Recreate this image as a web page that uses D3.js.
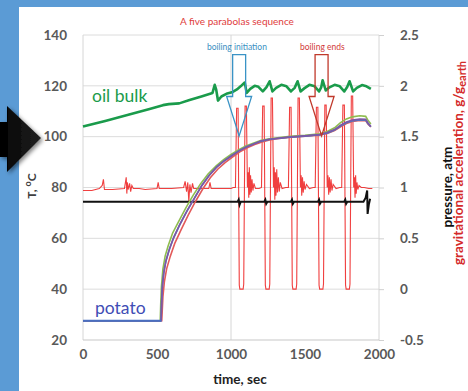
<!DOCTYPE html>
<html><head><meta charset="utf-8">
<script src="https://cdn.jsdelivr.net/npm/d3@7"></script>
<style>html,body{margin:0;padding:0;background:#5b9bd5;}svg{display:block;}</style>
</head><body>
<script>
// ---- data ----
const timeTicks = [0, 500, 1000, 1500, 2000];
const tempTicks = [20, 40, 60, 80, 100, 120, 140];
const pressureTicks = [-0.5, 0, 0.5, 1, 1.5, 2, 2.5];
const timeGrid = [0, 1000, 2000];

const oilBulk = [[0,104],[150,106.2],[300,108.5],[450,110.9],[540,112.4],[580,112.8],[650,113.1],[720,114.4],[800,115.8],[875,117.2],[890,120.4],[900,118.5],[912,114.2],[935,115.8],[975,117],[1012,117.6],[1040,118.6],[1065,119.8],[1093,121.3],[1106,117.2],[1130,118.8],[1160,120],[1185,119.6],[1215,117.8],[1240,119.5],[1261,121.8],[1280,117.8],[1305,119.2],[1340,120.4],[1375,119.8],[1405,117.8],[1430,119.2],[1450,121.8],[1470,117.8],[1495,119],[1530,120.4],[1565,119.8],[1595,117.8],[1610,119.5],[1619,122.2],[1640,118.2],[1665,119.4],[1700,120.4],[1735,119.8],[1765,117.8],[1785,119.5],[1801,121.8],[1825,117.8],[1850,119.2],[1885,120.3],[1915,119.8],[1945,118.8]];

const potatoRed = [[0,27.6],[532,27.6],[535,31],[540,37],[550,43],[565,48],[590,53],[620,58],[660,63],[710,69],[760,74.5],[810,79.5],[860,83.8],[910,87.2],[960,89.8],[1010,92],[1060,94],[1110,95.6],[1160,96.9],[1210,97.9],[1260,98.7],[1300,99.1],[1400,99.8],[1500,100.2],[1600,100.7],[1650,101.3],[1700,102.4],[1740,103.9],[1780,105.2],[1820,106],[1870,106.4],[1910,106.3],[1925,105],[1945,103.8]];
const potatoGreen = [[0,27.6],[522,27.6],[525,34],[530,41],[540,48],[555,53],[575,57],[605,62],[645,66.5],[695,72],[745,77],[795,81.5],[845,85.3],[900,88.5],[950,91],[1000,93],[1050,94.8],[1100,96.3],[1150,97.4],[1200,98.5],[1250,99.1],[1300,99.5],[1400,100.1],[1500,100.5],[1600,101.1],[1650,102],[1700,103.5],[1740,105.5],[1780,107],[1820,107.8],[1870,108.2],[1910,108],[1925,106.5],[1945,105]];
const potatoBlue = [[0,27.6],[528,27.6],[531,35],[537,42],[548,47.5],[562,51.5],[585,56],[615,60.5],[655,65.5],[705,71],[755,76],[805,81],[855,85],[905,88.2],[955,90.6],[1005,92.6],[1055,94.5],[1105,96],[1155,97.2],[1205,98.2],[1255,98.9],[1300,99.2],[1400,99.8],[1500,100.2],[1600,100.8],[1650,101.4],[1700,102.6],[1740,104.2],[1780,105.5],[1820,106.2],[1870,106.6],[1910,106.5],[1925,105.2],[1945,103.9]];
const potatoPurple = [[0,27.6],[527,27.6],[530,33],[535,40],[545,46],[560,51],[580,55],[610,60],[650,65],[700,70.5],[750,75.5],[800,80.5],[850,84.5],[900,87.8],[950,90.3],[1000,92.3],[1050,94.2],[1100,95.8],[1150,97],[1200,98.3],[1250,98.9],[1300,99.3],[1400,99.9],[1500,100.3],[1600,100.8],[1650,101.6],[1700,102.8],[1740,104.5],[1780,105.8],[1820,106.5],[1870,106.9],[1910,106.8],[1925,105.5],[1945,104]];

const gravity = [[0,0.97],[60,0.97],[110,0.99],[130,1.02],[138,1.08],[145,0.98],[200,0.98],[280,0.99],[292,1.1],[296,0.94],[300,1.05],[305,0.98],[315,1.04],[322,0.96],[330,1.02],[340,0.99],[380,0.99],[420,0.98],[500,0.99],[508,1.05],[515,0.99],[600,0.99],[680,1.0],[690,1.06],[700,0.96],[708,1.05],[715,0.86],[722,1.03],[730,0.95],[740,1.04],[748,0.99],[820,0.99],[850,0.99],[858,1.05],[866,0.99],[950,0.99],[1000,0.99],[1015,1.0],
[1030,1.0],[1038,1.78],[1048,1.78],[1056,0.04],[1060,0],[1082,0],[1086,0.05],[1095,1.8],[1104,1.8],[1111,1.0],[1116,1.15],[1120,0.9],[1124,1.2],[1128,0.93],[1132,1.12],[1137,0.95],[1142,1.08],[1148,0.97],[1155,1.04],[1165,0.99],[1190,0.99],
[1206,1.0],[1214,1.8],[1224,1.8],[1232,0.04],[1236,0],[1258,0],[1262,0.05],[1271,1.88],[1280,1.88],[1287,1.0],[1292,1.2],[1296,0.88],[1300,1.15],[1304,0.92],[1309,1.18],[1314,0.95],[1320,1.1],[1326,0.96],[1333,1.05],[1345,0.99],[1370,1.0],
[1388,1.0],[1396,1.79],[1406,1.79],[1414,0.04],[1418,0],[1440,0],[1444,0.05],[1453,1.88],[1462,1.88],[1469,1.0],[1474,1.12],[1478,0.92],[1483,1.1],[1488,0.95],[1494,1.06],[1500,0.98],[1510,1.03],[1530,0.99],[1555,1.0],
[1569,1.0],[1577,1.79],[1587,1.79],[1595,0.04],[1599,0],[1621,0],[1625,0.05],[1634,1.81],[1643,1.81],[1650,1.0],[1655,1.12],[1660,0.93],[1665,1.1],[1670,0.95],[1676,1.08],[1682,0.97],[1690,1.03],[1710,0.99],[1735,1.0],
[1748,1.0],[1756,1.81],[1766,1.81],[1774,0.04],[1778,0],[1800,0],[1804,0.05],[1813,1.9],[1822,1.9],[1829,1.0],[1834,1.1],[1838,0.9],[1842,1.12],[1846,0.94],[1851,1.05],[1857,0.98],[1865,1.02],[1880,1.0],[1900,1.0],[1930,0.99],[1955,0.99]];

const pressure = [[0,0.86],[1045,0.86],[1052,0.88],[1058,0.83],[1066,0.86],[1225,0.86],[1232,0.88],[1238,0.84],[1246,0.86],[1405,0.86],[1412,0.88],[1418,0.84],[1426,0.86],[1588,0.86],[1595,0.88],[1601,0.84],[1609,0.86],[1765,0.86],[1772,0.88],[1778,0.84],[1786,0.86],[1895,0.86],[1910,0.9],[1920,0.97],[1923,0.74],[1931,0.83],[1940,0.89]];

const boilingArrows = [
  {label: "boiling initiation", time: 1055, labelTime: 1040, color: "#3a93c6", textColor: "#3a8fc2"},
  {label: "boiling ends", time: 1612, labelTime: 1617, color: "#c0392b", textColor: "#d23a3a"}
];

// ---- layout ----
const W = 468, H = 391;
const svg = d3.select("body").append("svg").attr("width", W).attr("height", H);
svg.append("rect").attr("x",0).attr("y",0).attr("width",W).attr("height",H).attr("fill","#5b9bd5");
svg.append("rect").attr("x",19).attr("y",7).attr("width",W-19).attr("height",H-7).attr("fill","#ffffff");

const x = d3.scaleLinear().domain([0, 2000]).range([83, 379]);
const yT = d3.scaleLinear().domain([20, 140]).range([340, 35]);
const yP = d3.scaleLinear().domain([-0.5, 2.5]).range([340, 35]);

const FONT = "Lato, 'Open Sans', sans-serif";

// gridlines
const g = svg.append("g");
g.selectAll("line.hg").data(tempTicks.filter(d => d > 20)).enter().append("line")
  .attr("x1", x(0)).attr("x2", x(2000)).attr("y1", d => yT(d)).attr("y2", d => yT(d))
  .attr("stroke", "#dcdcdc").attr("stroke-width", 1);
g.selectAll("line.vg").data(timeGrid).enter().append("line")
  .attr("x1", d => x(d)).attr("x2", d => x(d)).attr("y1", yT(20)).attr("y2", yT(140))
  .attr("stroke", "#d6d6d6").attr("stroke-width", 1);
g.append("line").attr("x1", x(0)).attr("x2", x(2000)).attr("y1", yT(20)).attr("y2", yT(20))
  .attr("stroke", "#c8c8c8").attr("stroke-width", 1.2);

// axes
const fmtNum = d => String(d);
const axL = d3.axisLeft(yT).tickValues(tempTicks).tickSize(0).tickPadding(16).tickFormat(fmtNum);
const axB = d3.axisBottom(x).tickValues(timeTicks).tickSize(0).tickPadding(9).tickFormat(fmtNum);
const axR = d3.axisRight(yP).tickValues(pressureTicks).tickSize(5).tickPadding(16).tickFormat(fmtNum);
function styleAxis(sel){
  sel.select(".domain").remove();
  sel.selectAll("text").attr("font-family", FONT).attr("font-weight", "bold").attr("font-size", 13.5).attr("fill", "#595959");
  sel.selectAll("line").attr("stroke", "#d0d0d0");
}
svg.append("g").attr("transform", `translate(${x(0)},0)`).call(axL).call(styleAxis);
svg.append("g").attr("transform", `translate(0,${yT(20)})`).call(axB).call(styleAxis);
const rAx = svg.append("g").attr("transform", `translate(${x(2000)},0)`).call(axR).call(styleAxis);
rAx.selectAll("text").attr("text-anchor", "start").attr("x", 21);

// lines
const lineT = d3.line().x(d => x(d[0])).y(d => yT(d[1]));
const lineP = d3.line().x(d => x(d[0])).y(d => yP(d[1]));

svg.append("path").attr("d", lineP(gravity)).attr("fill", "none").attr("stroke", "#ee2a2a").attr("stroke-width", 1.1).attr("stroke-opacity", 0.9);
svg.append("path").attr("d", lineP(pressure)).attr("fill", "none").attr("stroke", "#111").attr("stroke-width", 2);

[[potatoRed,"#e35a5a"],[potatoGreen,"#8fbc4f"],[potatoBlue,"#4f78c2"],[potatoPurple,"#7c58a6"]].forEach(([d,c]) => {
  svg.append("path").attr("d", lineT(d)).attr("fill", "none").attr("stroke", c).attr("stroke-width", 1.6);
});
svg.append("path").attr("d", lineT(potatoBlue.slice(0,2))).attr("fill","none").attr("stroke","#4a6fc0").attr("stroke-width",2);

svg.append("path").attr("d", lineT(oilBulk)).attr("fill", "none").attr("stroke", "#1a9b4b").attr("stroke-width", 2.6).attr("stroke-linejoin","round");

// boiling arrows (outlined block arrows)
boilingArrows.forEach(a => {
  const cx = x(a.time);
  const top = yT(132.3), headTop = yT(115.8), tip = yT(100.3);
  const sw = 6.5, hw = 12.5;
  const pts = [[cx-sw,top],[cx+sw,top],[cx+sw,headTop],[cx+hw,headTop],[cx,tip],[cx-hw,headTop],[cx-sw,headTop]];
  svg.append("path").attr("d", d3.line()(pts) + "Z").attr("fill", "none").attr("stroke", a.color).attr("stroke-width", 1.3);
  svg.append("text").attr("x", x(a.labelTime)).attr("y", 50).attr("text-anchor", "middle")
    .attr("font-family", FONT).attr("font-size", 8.5).attr("fill", a.textColor).text(a.label);
});

// title
svg.append("text").attr("x", 237).attr("y", 25).attr("text-anchor", "middle").attr("font-family", FONT)
  .attr("font-size", 10).attr("fill", "#e03c3c").text("A five parabolas sequence");

// series labels
svg.append("text").attr("x", 92).attr("y", 102).attr("font-family", FONT).attr("font-size", 17.5).attr("fill", "#1a9b4b").text("oil bulk");
svg.append("text").attr("x", 95).attr("y", 314).attr("font-family", FONT).attr("font-size", 17.5).attr("fill", "#3f4db5").text("potato");

// axis titles
svg.append("text").attr("x", 240).attr("y", 384).attr("text-anchor", "middle").attr("font-family", FONT)
  .attr("font-weight", "bold").attr("font-size", 13.5).attr("fill", "#222").text("time, sec");

const tT = svg.append("text").attr("transform", "translate(36,186) rotate(-90)").attr("text-anchor", "middle")
  .attr("font-family", FONT).attr("font-weight", "bold").attr("font-size", 12).attr("fill", "#404040");
tT.append("tspan").text("T, ");
tT.append("tspan").attr("dy", -5).attr("font-size", 9).text("o");
tT.append("tspan").attr("dy", 5).text("C");

svg.append("text").attr("transform", "translate(452,187) rotate(-90)").attr("text-anchor", "middle")
  .attr("font-family", FONT).attr("font-weight", "bold").attr("font-size", 13.5).attr("fill", "#111").text("pressure, atm");

const gT = svg.append("text").attr("transform", "translate(463,163) rotate(-90)").attr("text-anchor", "middle")
  .attr("font-family", FONT).attr("font-weight", "bold").attr("font-size", 13.5).attr("fill", "#d42a2a");
gT.append("tspan").text("gravitational acceleration, g/g");
gT.append("tspan").attr("dy", 3).attr("font-size", 11).text("earth");

// big black arrow on the left
const defs = svg.append("defs");
const grad = defs.append("linearGradient").attr("id","ag").attr("x1","0").attr("x2","1").attr("y1","0").attr("y2","0");
grad.append("stop").attr("offset","0").attr("stop-color","#000");
grad.append("stop").attr("offset","1").attr("stop-color","#222");
const flt = defs.append("filter").attr("id","sh").attr("x","-50%").attr("y","-50%").attr("width","200%").attr("height","200%");
flt.append("feGaussianBlur").attr("in","SourceAlpha").attr("stdDeviation",2);
flt.append("feOffset").attr("dx",2).attr("dy",2).attr("result","b");
flt.append("feComponentTransfer").append("feFuncA").attr("type","linear").attr("slope",0.5);
const fm = flt.append("feMerge"); fm.append("feMergeNode"); fm.append("feMergeNode").attr("in","SourceGraphic");
const arrowPts = [[0,122],[7,122],[7,106],[41,138],[7,172],[7,157],[0,157]];
svg.append("path").attr("d", d3.line()(arrowPts)+"Z").attr("fill","url(#ag)").attr("filter","url(#sh)");
</script>
</body></html>
